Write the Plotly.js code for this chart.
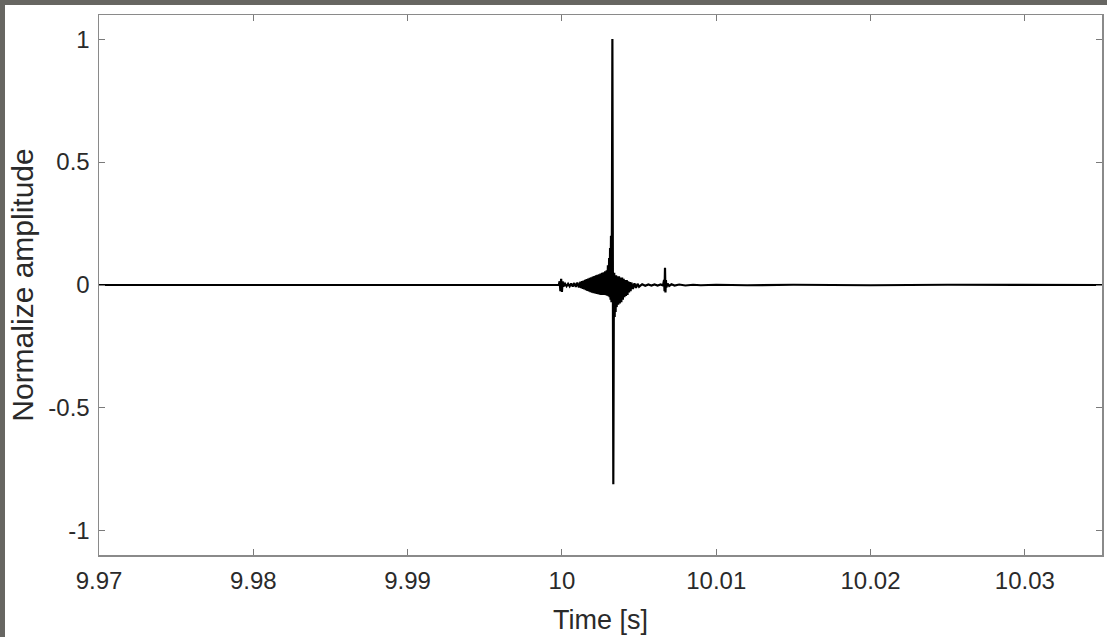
<!DOCTYPE html>
<html>
<head>
<meta charset="utf-8">
<script src="https://cdn.plot.ly/plotly-3.0.1.min.js"></script>
<style>
  html, body { margin: 0; padding: 0; background: #676662; width: 1107px; height: 637px; overflow: hidden; }
  #plot { position: absolute; left: 5px; top: 5px; width: 1102px; height: 632px; background: #ffffff; }
</style>
</head>
<body>
<div id="plot"></div>
<script>
// Time samples [s]
const timeS = [
  9.9700, 9.9750, 9.9800, 9.9850, 9.9900, 9.9950, 9.9998,
  9.99985, 9.99990, 9.99995, 10.00000, 10.00005, 10.00010,
  10.00020, 10.00030, 10.00040, 10.00050, 10.00060, 10.00070, 10.00080, 10.00090, 10.00100, 10.00110, 10.00120,
  10.00125, 10.00130, 10.00135, 10.00140, 10.00145, 10.00150, 10.00155, 10.00160, 10.00165, 10.00170,
  10.00175, 10.00180, 10.00185, 10.00190, 10.00195, 10.00200, 10.00205, 10.00210, 10.00215, 10.00220,
  10.00225, 10.00230, 10.00235, 10.00240, 10.00245, 10.00250, 10.00255, 10.00260, 10.00265, 10.00270,
  10.00275, 10.00280, 10.00285, 10.00290, 10.00294, 10.00298, 10.00302, 10.00306, 10.00309, 10.00312,
  10.00315, 10.00318, 10.00321, 10.00324, 10.00327, 10.00330, 10.00333, 10.00336, 10.00339, 10.00342,
  10.00345, 10.00348, 10.00351, 10.00355, 10.00360, 10.00365, 10.00370, 10.00375, 10.00380, 10.00385,
  10.00390, 10.00395, 10.00400, 10.00405, 10.00410, 10.00415, 10.00420, 10.00425, 10.00430, 10.00435,
  10.00440, 10.00445, 10.00450, 10.00460, 10.00470, 10.00480, 10.00490, 10.00500, 10.00520, 10.00540,
  10.00560, 10.00580, 10.00600, 10.00620, 10.00640, 10.00655,
  10.00662, 10.00665, 10.00668, 10.00671, 10.00674, 10.00677, 10.00685, 10.00695, 10.00710, 10.00730,
  10.00760, 10.00800, 10.00850, 10.00900, 10.01000, 10.01200, 10.01500, 10.02000, 10.02500, 10.03000, 10.03500
];

// Normalized amplitude
const amplitude = [
  0, 0.0005, -0.0005, 0.0005, -0.0005, 0.0005, 0,
  0.015, -0.025, 0.025, -0.028, 0.015, -0.006,
  0.005, -0.005, 0.005, -0.005, 0.006, -0.006, 0.008, -0.008, 0.010, -0.010, 0.013,
  -0.013, 0.016, -0.016, 0.018, -0.018, 0.021, -0.021, 0.024, -0.024, 0.026,
  -0.026, 0.029, -0.029, 0.031, -0.031, 0.034, -0.033, 0.036, -0.034, 0.039,
  -0.036, 0.042, -0.037, 0.044, -0.039, 0.047, -0.040, 0.050, -0.040, 0.052,
  -0.040, 0.056, -0.042, 0.060, -0.044, 0.080, -0.046, 0.110, -0.050, 0.150,
  -0.060, 0.200, -0.070, 0.250, 1.00, 0.10, -0.81, -0.15, 0.05, -0.13,
  0.04, -0.11, 0.04, -0.09, 0.035, -0.08, 0.035, -0.075, 0.03, -0.07,
  0.03, -0.06, 0.025, -0.05, 0.02, -0.045, 0.02, -0.04, 0.015, -0.03,
  0.012, -0.025, 0.01, -0.016, 0.007, -0.012, 0.005, -0.007, 0.003, -0.003,
  0.002, -0.002, 0.002, -0.002, 0.002, -0.002,
  0.02, -0.025, 0.07, -0.03, 0.02, -0.01, 0.006, -0.004, 0.003, -0.002,
  0.002, -0.002, 0.001, -0.001, 0.001, -0.001, 0.001, -0.001, 0.001, -0.001, 0
];

const xTickVals = [9.97, 9.98, 9.99, 10, 10.01, 10.02, 10.03];
const xTickText = ['9.97', '9.98', '9.99', '10', '10.01', '10.02', '10.03'];
const yTickVals = [-1, -0.5, 0, 0.5, 1];
const yTickText = ['-1', '-0.5', '0', '0.5', '1'];

const fontFam = '"Liberation Sans", Arial, Helvetica, sans-serif';

const trace = {
  x: timeS,
  y: amplitude,
  type: 'scatter',
  mode: 'lines',
  line: { color: '#000000', width: 2.2 },
  hoverinfo: 'skip'
};

const layout = {
  width: 1102,
  height: 632,
  margin: { l: 94, r: 5, t: 10, b: 82 },
  paper_bgcolor: '#ffffff',
  plot_bgcolor: '#ffffff',
  showlegend: false,
  font: { family: fontFam, color: '#262626' },
  xaxis: {
    range: [9.97, 10.035],
    tickmode: 'array',
    tickvals: xTickVals,
    ticktext: xTickText,
    ticks: 'inside',
    ticklen: 6,
    tickwidth: 1,
    tickcolor: '#7a7a7a',
    showline: true,
    linecolor: '#8a8a8a',
    linewidth: 1.5,
    mirror: 'ticks',
    showgrid: false,
    zeroline: false,
    ticklabelstandoff: 4,
    tickfont: { size: 24, color: '#2a2a2a', family: fontFam },
    title: { text: 'Time [s]', font: { size: 27, color: '#2a2a2a', family: fontFam }, standoff: 17 }
  },
  yaxis: {
    range: [-1.098, 1.098],
    tickmode: 'array',
    tickvals: yTickVals,
    ticktext: yTickText,
    ticks: 'inside',
    ticklen: 6,
    tickwidth: 1,
    tickcolor: '#7a7a7a',
    showline: true,
    linecolor: '#8a8a8a',
    linewidth: 1.5,
    mirror: 'ticks',
    showgrid: false,
    zeroline: false,
    ticklabelstandoff: 3,
    tickfont: { size: 24, color: '#2a2a2a', family: fontFam },
    title: { text: 'Normalize amplitude', font: { size: 30, color: '#2a2a2a', family: fontFam }, standoff: 6 }
  }
};

Plotly.newPlot('plot', [trace], layout, { staticPlot: true, displayModeBar: false });
</script>
</body>
</html>
